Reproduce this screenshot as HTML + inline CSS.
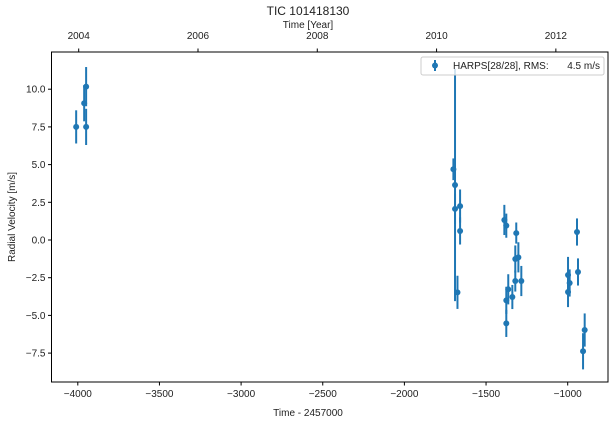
<!DOCTYPE html>
<html><head><meta charset="utf-8"><style>
html,body{margin:0;padding:0;background:#fff;}
svg{display:block;font-family:"Liberation Sans",Arial,sans-serif;}
</style></head><body>
<svg id="chart" width="616" height="425" viewBox="0 0 616 425"></svg>
<script>
const times=[-4010,-3961,-3949,-3949,-1700,-1690,-1690,-1675,-1659,-1659,-1388,-1376,-1376,-1376,-1364,-1339,-1321,-1321,-1315,-1302,-1284,-998,-998,-988,-943,-937,-906,-896];
const rvs=[7.5,9.07,10.17,7.5,4.69,3.65,2.06,-3.47,2.25,0.6,1.33,0.95,-4.0,-5.53,-3.27,-3.78,-2.72,-1.26,0.46,-1.15,-2.72,-2.32,-3.45,-2.85,0.53,-2.12,-7.38,-5.97];
const errs=[1.1,1.2,1.3,1.2,0.72,7.7,1.0,1.1,1.1,0.9,1.0,0.8,0.9,0.9,1.0,0.8,0.7,0.9,0.7,1.0,1.0,1.2,1.0,0.9,0.9,0.9,1.2,1.1];
const xTicks=[-4000,-3500,-3000,-2500,-2000,-1500,-1000];
const yTicks=[-7.5,-5.0,-2.5,0.0,2.5,5.0,7.5,10.0];
const yearTicks=[2004,2006,2008,2010,2012];

const L=51.5,R=608,T=52,B=382;
const X=t=>567.7+(t+1000)*0.1633;
const Y=v=>240-v*15.08;
const ns="http://www.w3.org/2000/svg";
const svg=document.getElementById('chart');
function mk(tag,attrs,parent){const e=document.createElementNS(ns,tag);for(const k in attrs)e.setAttribute(k,attrs[k]);(parent||svg).appendChild(e);return e;}
function txt(s,x,y,anchor,size,parent){const e=mk('text',{x:x,y:y,'text-anchor':anchor,'font-size':size,fill:'#222'},parent);e.textContent=s;return e;}

const t1=txt('TIC 101418130',308,15,'middle',12);


const t2=txt('Time [Year]',308,28,'middle',10);


const t3=txt('Time - 2457000',308,416,'middle',10);


const t4=txt('Radial Velocity [m/s]',15,217,'middle',10);
t4.setAttribute('transform','rotate(-90 15 217)');



const frame=mk('rect',{x:L,y:T,width:R-L,height:B-T,fill:'none',stroke:'#000','stroke-width':1});



xTicks.forEach(t=>{const x=X(t);
 mk('line',{x1:x,y1:B,x2:x,y2:B+3.5,stroke:'#000'});
 const e=txt(String(t).replace('-','−'),x,397,'middle',10);
 
 });
yTicks.forEach(v=>{const y=Y(v);
 mk('line',{x1:L-3.5,y1:y,x2:L,y2:y,stroke:'#000'});
 const e=txt(v.toFixed(1).replace('-','−'),L-6,y+3.5,'end',10);
 
 });
yearTicks.forEach(yr=>{const t=(yr-2000)*365.25+2451544.5-2457000;const x=X(t);
 mk('line',{x1:x,y1:T,x2:x,y2:T-3.5,stroke:'#000'});
 const e=txt(String(yr),x,39,'middle',10);
 
 });

const g=mk('g',{});


times.forEach((t,i)=>{const x=X(t),y=Y(rvs[i]);
 const l=mk('line',{x1:x,y1:Y(rvs[i]+errs[i]),x2:x,y2:Y(rvs[i]-errs[i]),stroke:'#1f77b4','stroke-width':2},g);
 
 
 const c=mk('circle',{cx:x,cy:y,r:3,fill:'#1f77b4'},g);
 
 });

const lg=mk('g',{});


mk('rect',{x:421,y:57,width:183,height:18,rx:2,fill:'#fff','fill-opacity':0.8,stroke:'#ccc'},lg);
mk('line',{x1:435,y1:60,x2:435,y2:71,stroke:'#1f77b4','stroke-width':2},lg);
mk('circle',{cx:435,cy:65.5,r:3,fill:'#1f77b4'},lg);
const le=txt('HARPS[28/28], RMS:',453,69,'start',10,lg);


txt('4.5 m/s',600,69,'end',10,lg);
</script>
</body></html>
